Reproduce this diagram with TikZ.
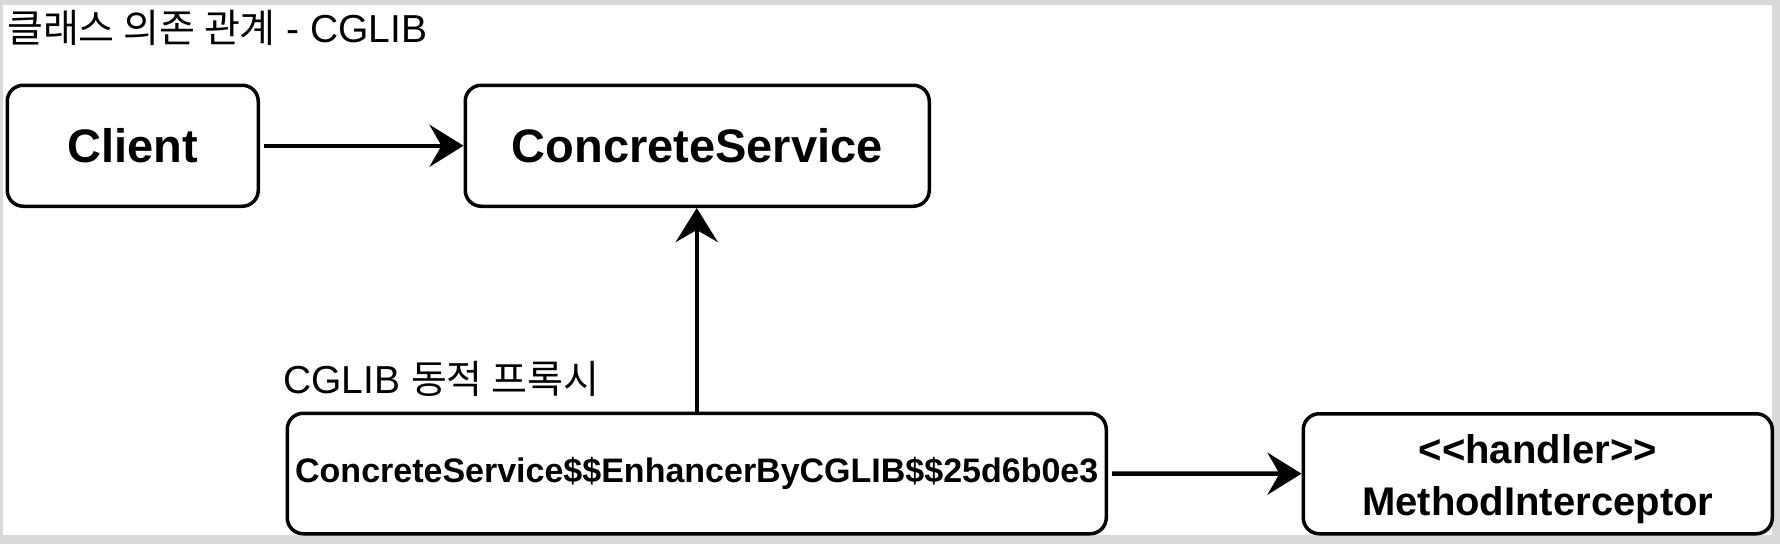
\documentclass[tikz,border=0pt]{standalone}
\usepackage{fontspec}
\setmainfont{Liberation Sans}
\newfontfamily\kr{Noto Sans CJK KR}
\usetikzlibrary{arrows.meta,positioning}
\definecolor{framegray}{HTML}{D9D9D9}

\begin{document}
\begin{tikzpicture}[x=1pt, y=-1pt,
    cls/.style={draw, line width=3.5pt, rounded corners=16pt, inner sep=0pt,
                minimum height=121pt, anchor=north west, align=center,
                font=\fontsize{47}{56}\selectfont\bfseries},
    lab/.style={anchor=base west, inner sep=0pt, font=\fontsize{39}{46}\selectfont},
    dep/.style={draw, line width=4.5pt, -{Stealth[length=34pt,width=42pt,inset=12pt]}}]

  \useasboundingbox (0,0) rectangle (1780,544);
  \fill[framegray] (0,0) rectangle (1780,544);
  \fill[white] (3,5) rectangle (1772,535);

  \node[lab] (title) at (7,42) {{\kr 클래스 의존 관계} - CGLIB};
  \node[lab] (plab) at (283,393) {CGLIB {\kr 동적 프록시}};

  \node[cls, minimum width=251pt] (client) at (5.5,83.5) {Client};
  \node[cls, minimum width=464pt] (cs) at (463.5,83.5) {ConcreteService};
  \node[cls, minimum width=819pt, minimum height=120.5pt,
        font=\fontsize{34}{40}\selectfont\bfseries] (proxy) at (285.5,411.5)
    {ConcreteService\$\$EnhancerByCGLIB\$\$25d6b0e3};
  \node[cls, minimum width=469pt, minimum height=120pt,
        font=\fontsize{40}{52}\selectfont\bfseries] (handler) at (1301.5,412)
    {\rule{0pt}{39pt}<{}<handler>{}>\\MethodInterceptor};

  \draw[dep, shorten <=4pt] (client) -- (cs);
  \draw[dep] (proxy.north) -- (proxy.north |- cs.south);
  \draw[dep, shorten <=4pt] (proxy) -- (handler);
\end{tikzpicture}
\end{document}
